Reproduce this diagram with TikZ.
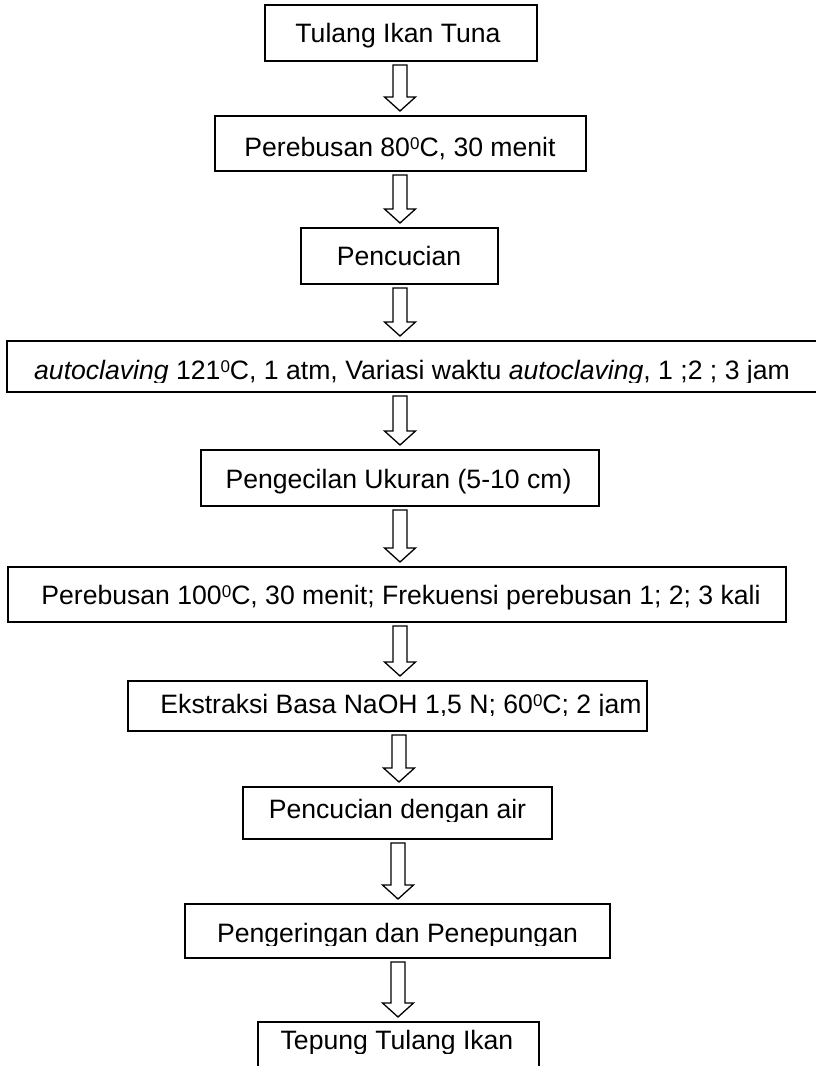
\documentclass[tikz,border=0pt]{standalone}
\usepackage{fontspec}
\setmainfont{Liberation Sans}
\usetikzlibrary{fit,calc}

% raised small zero used for degrees
\newcommand\supo{\raisebox{7pt}{\fontsize{17}{17}\selectfont 0}}

% hollow block arrow from the bottom of one box to the top of the next
\newcommand\flowarrow[3]{%
  \path let \p1=(#1.south), \p2=(#2.north) in
    [blockarrow] ({#3pt-7pt},{\y1-4pt}) -- ({#3pt+7pt},{\y1-4pt})
    -- ({#3pt+7pt},{\y2+19pt}) -- ({#3pt+15.5pt},{\y2+19pt})
    -- ({#3pt},{\y2+5pt}) -- ({#3pt-15.5pt},{\y2+19pt})
    -- ({#3pt-7pt},{\y2+19pt}) -- cycle;}

\begin{document}
\begin{tikzpicture}[x=1pt,y=-1pt,
  procbox/.style={draw=black, line width=1.6pt, inner sep=0pt, outer sep=0pt},
  steptext/.style={anchor=base, inner sep=0pt, font=\fontsize{26.6}{32}\selectfont},
  blockarrow/.style={draw=black, line width=1.3pt, fill=white, line join=miter}]

\useasboundingbox (0,0) rectangle (816,1066);
\clip (0,0) rectangle (816,1066);

% process boxes
\node[procbox, fit={(265,5) (537,61)}]      (b1) {};
\node[procbox, fit={(215,116) (586,171)}]   (b2) {};
\node[procbox, fit={(301,228) (498,284)}]   (b3) {};
\node[procbox, fit={(7,341) (840,392)}]     (b4) {};
\node[procbox, fit={(201,450) (599,506)}]   (b5) {};
\node[procbox, fit={(8,567) (786,622)}]     (b6) {};
\node[procbox, fit={(128,681) (647,731)}]   (b7) {};
\node[procbox, fit={(243,787) (552,839)}]   (b8) {};
\node[procbox, fit={(185,904) (610,958)}]   (b9) {};
\node[procbox, fit={(258,1022) (539,1090)}] (b10) {};

% labels
\node[steptext] (t1) at (398,42)  {Tulang Ikan Tuna};
\node[steptext] (t2) at (400,156) {Perebusan 80\supo C, 30 menit};
\node[steptext] (t3) at (399,265) {Pencucian};
\begin{scope}
  \clip (7,341) rectangle (840,382.5);
  \node[steptext] (t4) at (412,379) {\textit{autoclaving} 121\supo C, 1 atm, Variasi waktu \textit{autoclaving}, 1 ;2 ; 3 jam};
\end{scope}
\node[steptext] (t5) at (398.5,488) {Pengecilan Ukuran (5-10 cm)};
\node[steptext] (t6) at (401,604) {Perebusan 100\supo C, 30 menit; Frekuensi perebusan 1; 2; 3 kali};
\begin{scope}
  \clip (128,681) rectangle (647,715.5);
  \node[steptext] (t7) at (401,713) {Ekstraksi Basa NaOH 1,5 N; 60\supo C; 2 jam};
\end{scope}
\begin{scope}
  \clip (243,787) rectangle (552,821);
  \node[steptext] (t8) at (397.5,818) {Pencucian dengan air};
\end{scope}
\begin{scope}
  \clip (185,904) rectangle (610,945);
  \node[steptext] (t9) at (397.5,942) {Pengeringan dan Penepungan};
\end{scope}
\begin{scope}
  \clip (258,1022) rectangle (539,1053);
  \node[steptext] (t10) at (397,1049) {Tepung Tulang Ikan};
\end{scope}

% connectors
\flowarrow{b1}{b2}{400}
\flowarrow{b2}{b3}{400}
\flowarrow{b3}{b4}{400}
\flowarrow{b4}{b5}{400}
\flowarrow{b5}{b6}{400}
\flowarrow{b6}{b7}{400}
\flowarrow{b7}{b8}{399}
\flowarrow{b8}{b9}{398}
\flowarrow{b9}{b10}{398}
\end{tikzpicture}
\end{document}
